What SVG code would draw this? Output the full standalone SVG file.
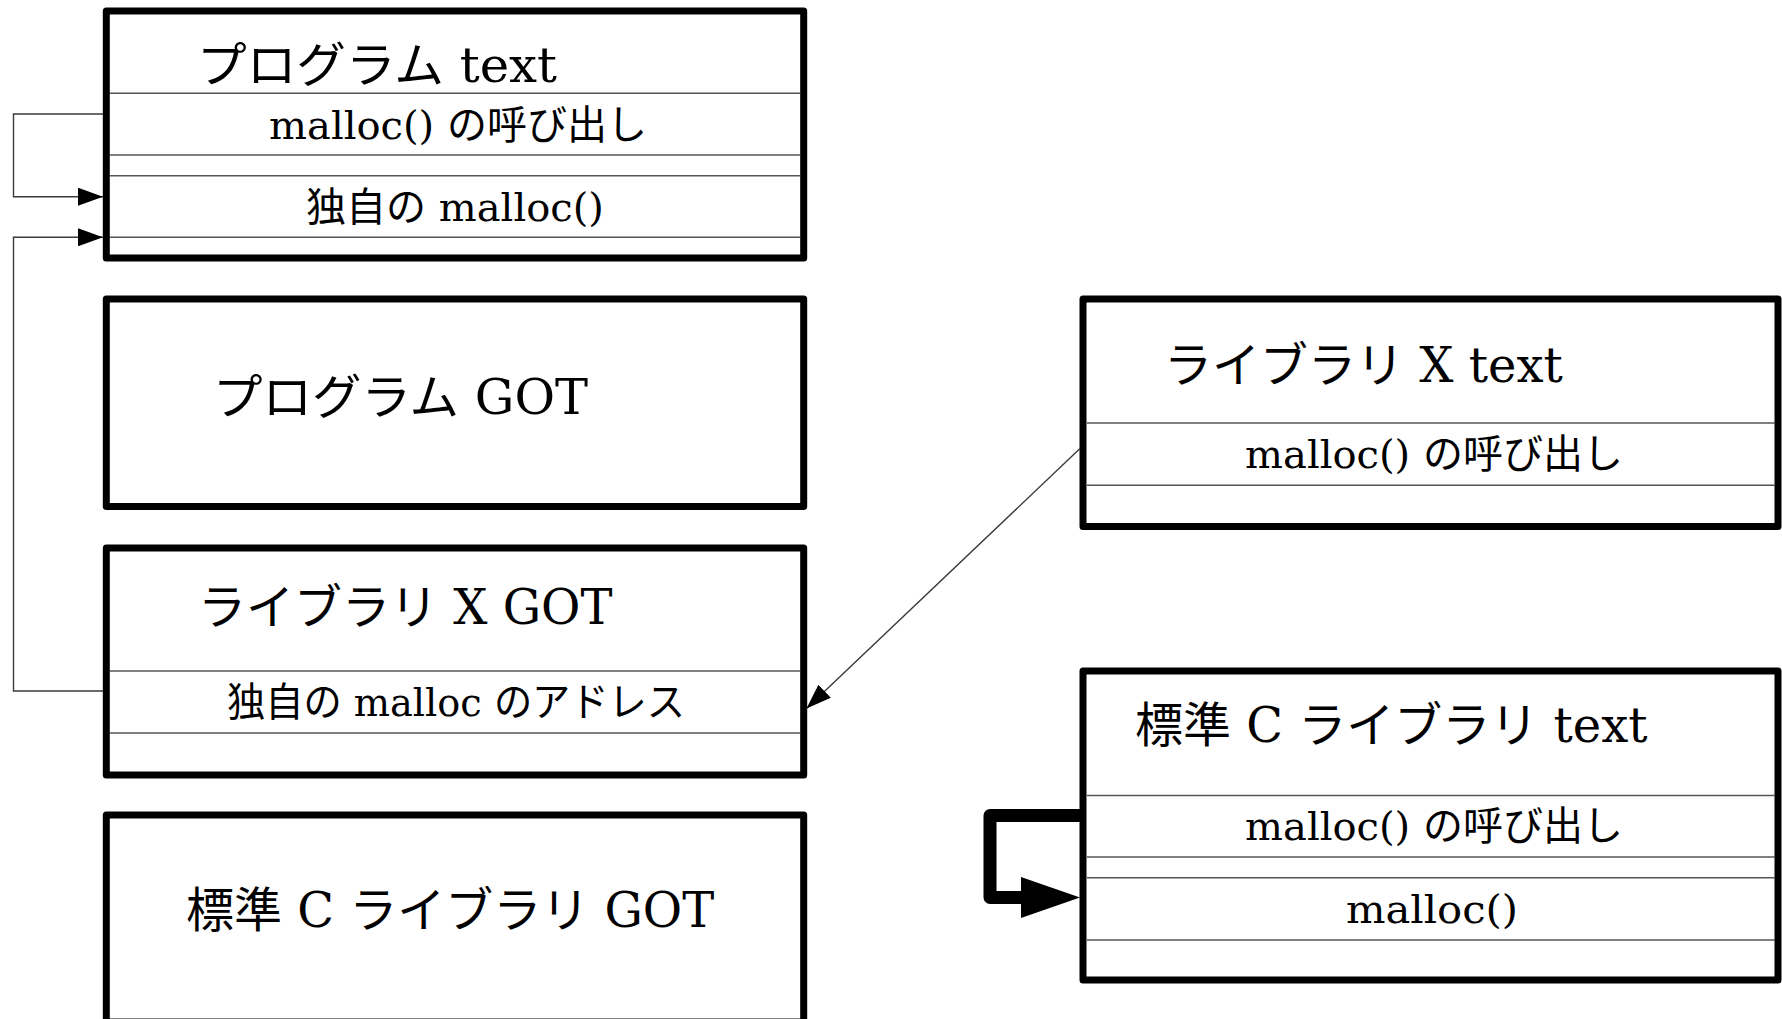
<svg xmlns="http://www.w3.org/2000/svg" width="1782" height="1019" viewBox="0 0 1782 1019">
  <style>
    .box { fill: #ffffff; stroke: #000000; stroke-width: 7; stroke-linejoin: round; }
    .row { stroke: #555555; stroke-width: 1.5; fill: none; }
    .conn { stroke: #3a3a3a; stroke-width: 1.4; fill: none; }
    .thick { stroke: #000000; stroke-width: 13; fill: none; stroke-linejoin: round; }
    .title { font-family: "DejaVu Serif", "Noto Sans CJK JP", serif; font-size: 48px; fill: #000000; }
    .cell { font-family: "DejaVu Serif", "Noto Sans CJK JP", serif; font-size: 40px; fill: #000000; text-anchor: middle; }
  </style>
  <defs>
    <marker id="arrow" markerUnits="userSpaceOnUse" markerWidth="25" markerHeight="18" refX="25" refY="9" orient="auto">
      <path d="M0,0 L25,9 L0,18 z" fill="#000000"/>
    </marker>
  </defs>

  <rect width="1782" height="1019" fill="#ffffff"/>

  <!-- program text segment -->
  <g id="program-text">
    <rect class="box" x="106.3" y="11" width="697.4" height="247"/>
    <line class="row" x1="110" y1="93.3" x2="800" y2="93.3"/>
    <line class="row" x1="110" y1="155" x2="800" y2="155"/>
    <line class="row" x1="110" y1="175.8" x2="800" y2="175.8"/>
    <line class="row" x1="110" y1="237.3" x2="800" y2="237.3"/>
    <text class="title" x="197" y="82" textLength="360" lengthAdjust="spacingAndGlyphs">プログラム text</text>
    <text class="cell" x="458" y="138.5">malloc() の呼び出し</text>
    <text class="cell" x="455" y="221">独自の malloc()</text>
  </g>

  <!-- program GOT -->
  <g id="program-got">
    <rect class="box" x="106.3" y="299" width="697.4" height="207.5"/>
    <text class="title" x="213" y="414" textLength="375" lengthAdjust="spacingAndGlyphs">プログラム GOT</text>
  </g>

  <!-- library X GOT -->
  <g id="libx-got">
    <rect class="box" x="106.3" y="548" width="697.4" height="227"/>
    <line class="row" x1="110" y1="671" x2="800" y2="671"/>
    <line class="row" x1="110" y1="733" x2="800" y2="733"/>
    <text class="title" x="198" y="624">ライブラリ X GOT</text>
    <text class="cell" x="456" y="716" textLength="458" lengthAdjust="spacingAndGlyphs">独自の malloc のアドレス</text>
  </g>

  <!-- standard C library GOT -->
  <g id="libc-got">
    <rect class="box" x="106.3" y="815" width="697.4" height="207"/>
    <text class="title" x="186" y="927">標準 C ライブラリ GOT</text>
  </g>

  <!-- library X text segment -->
  <g id="libx-text">
    <rect class="box" x="1083" y="299" width="695" height="227.5"/>
    <line class="row" x1="1087" y1="423" x2="1775" y2="423"/>
    <line class="row" x1="1087" y1="485.3" x2="1775" y2="485.3"/>
    <text class="title" x="1164" y="382">ライブラリ X text</text>
    <text class="cell" x="1434" y="468">malloc() の呼び出し</text>
  </g>

  <!-- standard C library text segment -->
  <g id="libc-text">
    <rect class="box" x="1083" y="671" width="695" height="309"/>
    <line class="row" x1="1087" y1="795.6" x2="1775" y2="795.6"/>
    <line class="row" x1="1087" y1="857" x2="1775" y2="857"/>
    <line class="row" x1="1087" y1="877.8" x2="1775" y2="877.8"/>
    <line class="row" x1="1087" y1="940" x2="1775" y2="940"/>
    <text class="title" x="1135" y="742">標準 C ライブラリ text</text>
    <text class="cell" x="1434" y="840">malloc() の呼び出し</text>
    <text class="cell" x="1432" y="923" textLength="172" lengthAdjust="spacingAndGlyphs">malloc()</text>
  </g>

  <!-- connectors -->
  <g id="connectors">
    <path class="conn" d="M103,114 H13.5 V196.7 H103" marker-end="url(#arrow)"/>
    <path class="conn" d="M103,691 H13.5 V237.3 H103" marker-end="url(#arrow)"/>
    <path class="conn" d="M1080,448.5 L806.5,708.5" marker-end="url(#arrow)"/>
    <path class="thick" d="M1080,815.5 H990 V897.5 H1024"/>
    <polygon points="1021,877 1080,897.5 1021,918" fill="#000000"/>
  </g>
</svg>
